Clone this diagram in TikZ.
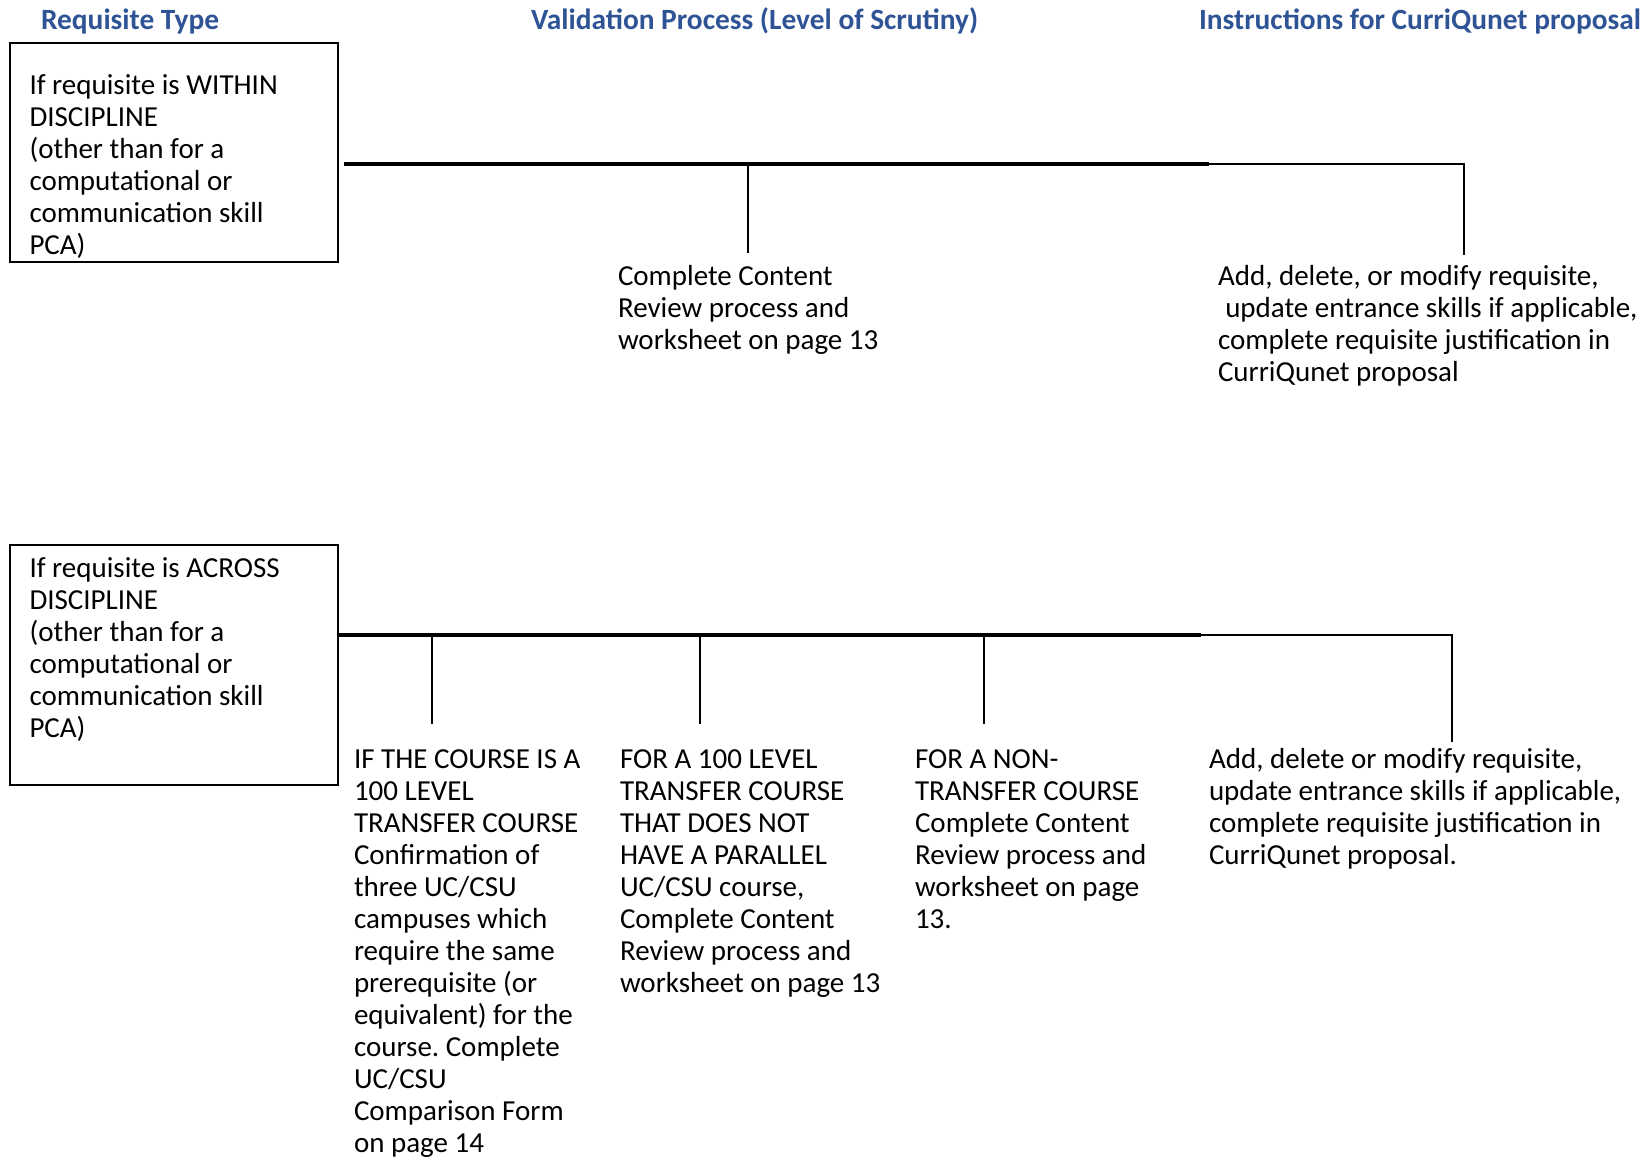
\documentclass[tikz,border=0pt]{standalone}
\usepackage{fontspec}
\setmainfont{Carlito}
\definecolor{headblue}{HTML}{2F5496}
\frenchspacing
\begin{document}
\begin{tikzpicture}[x=0.5pt,y=-0.5pt,
  every node/.style={inner sep=0pt, outer sep=0pt},
  heading/.style={anchor=base west, font=\fontsize{14.7}{16}\selectfont\bfseries, text=headblue},
  body/.style={anchor=north west, align=left, font=\fontsize{14.5}{16}\selectfont},
  trunk/.style={line width=1.6pt},
  tail/.style={line width=0.9pt},
  tick/.style={line width=1.3pt}]
\useasboundingbox (0,0) rectangle (1649,1159);

% column headings
\node[heading] (h1) at (41,30) {Requisite Type};
\node[heading] (h2) at (531,30) {Validation Process (Level of Scrutiny)};
\node[heading] (h3) at (1199,30) {Instructions for CurriQunet proposal};

% ---- within discipline ----
\draw[line width=1pt] (9.5,43) rectangle (337.5,262);
\node[body] (within) at (29.5,72) {\strut If requisite is WITHIN\\DISCIPLINE\\(other than for a\\computational or\\communication skill\\PCA)};

\coordinate (w0) at (344,164);
\coordinate (wsplit) at (1209,164);
\coordinate (wcorner) at (1464,164);
\coordinate (wv) at (748,164);
\coordinate (wvend) at (748,253);
\coordinate (wend) at (1464,255);

\draw[trunk] (w0) -- (wsplit);
\draw[tail] (wsplit) -- (wcorner) -- (wend);
\draw[tick] (wv) -- (wvend);

\node[body] (wreview) at (618,263.5) {\strut Complete Content\\Review process and\\worksheet on page 13};
\node[body] (winstr) at (1218,263.5) {\strut Add, delete, or modify requisite,\\\hspace*{0.25em}update entrance skills if applicable,\\complete requisite justification in\\CurriQunet proposal};

% ---- across discipline ----
\draw[line width=1pt] (9.5,545) rectangle (337.5,785);
\node[body] (across) at (29.5,555.5) {\strut If requisite is ACROSS\\DISCIPLINE\\(other than for a\\computational or\\communication skill\\PCA)};

\coordinate (a0) at (337.5,635);
\coordinate (asplit) at (1201,635);
\coordinate (acorner) at (1452,635);
\coordinate (aend) at (1452,742);
\coordinate (t1) at (432,635);
\coordinate (t1e) at (432,724);
\coordinate (t2) at (700,635);
\coordinate (t2e) at (700,724);
\coordinate (t3) at (984,635);
\coordinate (t3e) at (984,724);

\draw[trunk] (a0) -- (asplit);
\draw[tail] (asplit) -- (acorner) -- (aend);
\draw[tick] (t1) -- (t1e);
\draw[tick] (t2) -- (t2e);
\draw[tick] (t3) -- (t3e);

\node[body] (c1) at (354,746.5) {\strut IF THE COURSE IS A\\100 LEVEL\\TRANSFER COURSE\\Confirmation of\\three UC/CSU\\campuses which\\require the same\\prerequisite (or\\equivalent) for the\\course. Complete\\UC/CSU\\Comparison Form\\on page 14};
\node[body] (c2) at (620,746.5) {\strut FOR A 100 LEVEL\\TRANSFER COURSE\\THAT DOES NOT\\HAVE A PARALLEL\\UC/CSU course,\\Complete Content\\Review process and\\worksheet on page 13};
\node[body] (c3) at (915,746.5) {\strut FOR A NON-\\TRANSFER COURSE\\Complete Content\\Review process and\\worksheet on page\\13.};
\node[body] (c4) at (1209,746.5) {\strut Add, delete or modify requisite,\\update entrance skills if applicable,\\complete requisite justification in\\CurriQunet proposal.};
\end{tikzpicture}
\end{document}
